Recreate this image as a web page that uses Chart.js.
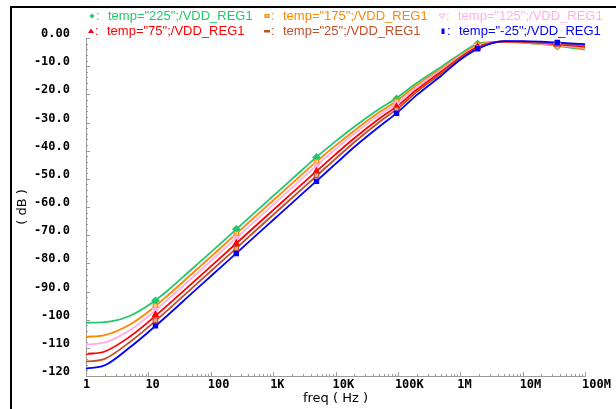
<!DOCTYPE html>
<html><head><meta charset="utf-8">
<script src="https://cdn.jsdelivr.net/npm/chart.js@4/dist/chart.umd.min.js"></script>
<style>
html,body{margin:0;padding:0;background:#fff;}
#wrap{position:relative;width:616px;height:409px;overflow:hidden;}
#frame{position:absolute;left:10px;top:6px;right:-4px;bottom:-4px;border-left:2px solid #000;border-top:2px solid #000;pointer-events:none;}
</style></head><body>
<div id="wrap"><canvas id="c" width="616" height="409"></canvas><div id="frame"></div></div>
<script>
// ---- data ----
const freq = [1,2,5,10,20,50,100,200,500,1e3,2e3,5e3,1e4,2e4,5e4,1e5,2e5,5e5,1e6,2e6,5e6,1e7,2e7,5e7,1e8];
const db225 = [-101.1,-100.9,-98.7,-94.9,-89.8,-82.0,-76.1,-70.1,-62.1,-56.1,-50.1,-42.2,-36.7,-31.5,-25.2,-21.0,-16.0,-10.2,-5.7,-1.9,-1.3,-1.6,-2.2,-3.2,-4.1];
const db175 = [-106.1,-105.5,-101.8,-97.2,-91.6,-83.7,-77.7,-71.7,-63.7,-57.7,-51.7,-43.8,-38.2,-32.9,-26.4,-22.0,-16.8,-10.8,-6.2,-2.3,-1.4,-1.6,-2.1,-3.0,-3.8];
const db125 = [-108.9,-108.1,-103.8,-98.8,-93.1,-85.2,-79.2,-73.2,-65.2,-59.2,-53.2,-45.2,-39.5,-34.0,-27.4,-22.9,-17.5,-11.3,-6.5,-2.7,-1.3,-1.5,-2.0,-2.8,-3.5];
const db75  = [-112.2,-111.3,-106.1,-100.8,-95.0,-87.1,-81.1,-75.1,-67.1,-61.1,-55.1,-47.2,-41.3,-35.6,-28.7,-24.0,-18.4,-11.9,-6.9,-3.0,-1.3,-1.4,-1.8,-2.5,-3.1];
const db25  = [-114.9,-113.9,-108.0,-102.6,-96.8,-88.8,-82.8,-76.8,-68.8,-62.8,-56.8,-48.9,-42.9,-37.0,-29.9,-25.0,-19.2,-12.5,-7.3,-3.3,-1.2,-1.3,-1.6,-2.2,-2.7];
const dbm25 = [-117.4,-116.2,-109.9,-104.4,-98.6,-90.6,-84.6,-78.6,-70.6,-64.6,-58.6,-50.7,-44.7,-38.7,-31.5,-26.3,-20.3,-13.3,-7.7,-3.6,-1.1,-1.1,-1.3,-1.8,-2.2];

const markerFreq = [13, 257, 4950, 95000, 1.9e6, 3.6e7];
const mk225 = [-93.3,-67.9,-42.4,-21.6,-2.1,-2.9];
const mk175 = [-95.1,-69.5,-44.0,-22.5,-2.5,-2.7];
const mk125 = [-96.6,-71.1,-45.4,-23.5,-2.9,-2.5];
const mk75  = [-98.3,-73.0,-47.4,-24.5,-3.2,-2.2];
const mk25  = [-100.2,-74.8,-48.8,-25.5,-3.5,-1.9];
const mkm25 = [-102.2,-76.5,-50.9,-26.7,-3.8,-1.6];

const seriesNames = ['temp="225";/VDD_REG1','temp="175";/VDD_REG1','temp="125";/VDD_REG1','temp="75";/VDD_REG1','temp="25";/VDD_REG1','temp="-25";/VDD_REG1'];
const xTickValues = [1,10,100,1e3,1e4,1e5,1e6,1e7,1e8];
const xTickLabels = ['1','10','100','1K','10K','100K','1M','10M','100M'];
const yTickValues = [0,-10,-20,-30,-40,-50,-60,-70,-80,-90,-100,-110,-120];
const yTickLabels = ['0.00','-10.0','-20.0','-30.0','-40.0','-50.0','-60.0','-70.0','-80.0','-90.0','-100','-110','-120'];

// ---- styles ----
const colors = ['#22c86e','#ff8800','#ffb0e4','#ff0000','#c0502c','#0000ff'];
const curves = [db225,db175,db125,db75,db25,dbm25];
const marks = [mk225,mk175,mk125,mk75,mk25,mkm25];
const pStyles = [
  {pointStyle:'rectRot',radius:3.5,rotation:0,bg:colors[0]},
  {pointStyle:'rect',radius:3.2,rotation:0,bg:'#ffc880'},
  {pointStyle:'triangle',radius:3.5,rotation:180,bg:colors[2]},
  {pointStyle:'triangle',radius:3.5,rotation:0,bg:colors[3]},
  {pointStyle:'rect',radius:3.2,rotation:0,bg:'#e0a890'},
  {pointStyle:'rect',radius:3,rotation:0,bg:colors[5]}
];

const datasets = [];
for (let i = 0; i < 6; i++) {
  datasets.push({
    data: freq.map((f,k)=>({x:f,y:curves[i][k]})),
    borderColor: colors[i], borderWidth: 1.8, pointRadius: 0,
    cubicInterpolationMode: 'monotone', fill: false, order: 10 - i
  });
  datasets.push({
    data: markerFreq.map((f,k)=>({x:f,y:marks[i][k]})),
    showLine: false, borderColor: colors[i], backgroundColor: pStyles[i].bg,
    pointStyle: pStyles[i].pointStyle, pointRadius: pStyles[i].radius,
    pointRotation: pStyles[i].rotation, pointBorderWidth: 1.2, order: 0 - i
  });
}

const legendPos = [[92,16],[267,16],[442,16],[91,31],[267,31],[443,31]];
const legendPlugin = {
  id: 'legendText',
  afterDraw(chart) {
    const ctx = chart.ctx;
    ctx.save();
    ctx.textBaseline = 'middle';
    ctx.font = '13px "Liberation Sans", Arial, sans-serif';
    for (let i = 0; i < 6; i++) {
      const [x, y] = legendPos[i];
      ctx.fillStyle = colors[i]; ctx.strokeStyle = colors[i];
      ctx.beginPath();
      if (i === 0) { ctx.moveTo(x, y-2.5); ctx.lineTo(x+2.5, y); ctx.lineTo(x, y+2.5); ctx.lineTo(x-2.5, y); ctx.closePath(); ctx.fill(); }
      else if (i === 1) { ctx.fillRect(x-2.5, y-2, 5, 4); ctx.fillStyle = '#ffd8a8'; ctx.fillRect(x-1, y-0.8, 2, 1.6); ctx.fillStyle = colors[i]; }
      else if (i === 2) { ctx.moveTo(x-3, y-2); ctx.lineTo(x+3, y-2); ctx.lineTo(x, y+2.5); ctx.closePath(); ctx.lineWidth = 1; ctx.stroke(); }
      else if (i === 3) { ctx.moveTo(x-3, y+2); ctx.lineTo(x+3, y+2); ctx.lineTo(x, y-2.5); ctx.closePath(); ctx.fill(); }
      else if (i === 4) { ctx.fillRect(x-3, y-1, 6, 2.5); }
      else { ctx.fillRect(x-1.5, y-2.5, 3, 5.5); }
      ctx.fillText(':', x+4, y);
      ctx.fillText(seriesNames[i], x+16, y);
    }
    ctx.restore();
  }
};

const tickPlugin = {
  id: 'axisTicks',
  afterDatasetsDraw(chart) {
    const {ctx, chartArea:a, scales:{x, y}} = chart;
    ctx.save();
    ctx.strokeStyle = '#9a9a9a'; ctx.lineWidth = 1;
    ctx.beginPath();
    for (let v = 0; v >= -120; v -= 2) {
      const py = Math.round(y.getPixelForValue(v)) + 0.5;
      const len = (v % 10 === 0) ? 4 : 2;
      ctx.moveTo(a.left, py); ctx.lineTo(a.left + len, py);
    }
    for (let d = 0; d < 8; d++) {
      for (let m = 1; m < 10; m++) {
        const px = Math.round(x.getPixelForValue(m * Math.pow(10, d))) + 0.5;
        const len = (m === 1) ? 4 : 2;
        ctx.moveTo(px, a.bottom); ctx.lineTo(px, a.bottom - len);
      }
    }
    const pe = Math.round(x.getPixelForValue(1e8)) + 0.5;
    ctx.moveTo(pe, a.bottom); ctx.lineTo(pe, a.bottom - 4);
    ctx.stroke();
    ctx.restore();
  }
};

const tickFont = {family: '"DejaVu Sans Mono", "Liberation Mono", monospace', size: 12, weight: 'bold'};
const titleFont = {family: '"DejaVu Sans", sans-serif', size: 13};

new Chart(document.getElementById('c'), {
  type: 'line',
  data: { datasets },
  options: {
    responsive: false, animation: false,
    layout: { padding: { top: 38, right: 31, left: 0, bottom: 0 } },
    plugins: { legend: { display: false }, tooltip: { enabled: false } },
    scales: {
      x: {
        type: 'logarithmic', min: 1, max: 1e8,
        afterBuildTicks: s => { s.ticks = xTickValues.map(v => ({value: v})); },
        afterFit: s => { s.height = 33; },
        grid: { display: false, drawTicks: false },
        border: { display: true, color: '#9a9a9a', width: 1 },
        ticks: { color: '#000', font: tickFont, padding: 2, align: 'start', labelOffset: -3,
          autoSkip: false, maxRotation: 0,
          callback: (v, i) => xTickLabels[i] },
        title: { display: true, text: 'freq ( Hz )', color: '#000', font: titleFont, padding: { top: 0, bottom: 3 } }
      },
      y: {
        type: 'linear', min: -120, max: 0,
        afterBuildTicks: s => { s.ticks = yTickValues.map(v => ({value: v})); },
        afterFit: s => { s.width = 86; },
        grid: { display: false, drawTicks: false },
        border: { display: true, color: '#9a9a9a', width: 1 },
        ticks: { color: '#000', font: tickFont, padding: 16, labelOffset: -4,
          callback: (v, i) => yTickLabels[i] },
        title: { display: true, text: '( dB )', color: '#000', font: titleFont, padding: { top: 15, bottom: 0 } }
      }
    }
  },
  plugins: [tickPlugin, legendPlugin]
});
</script></body></html>
